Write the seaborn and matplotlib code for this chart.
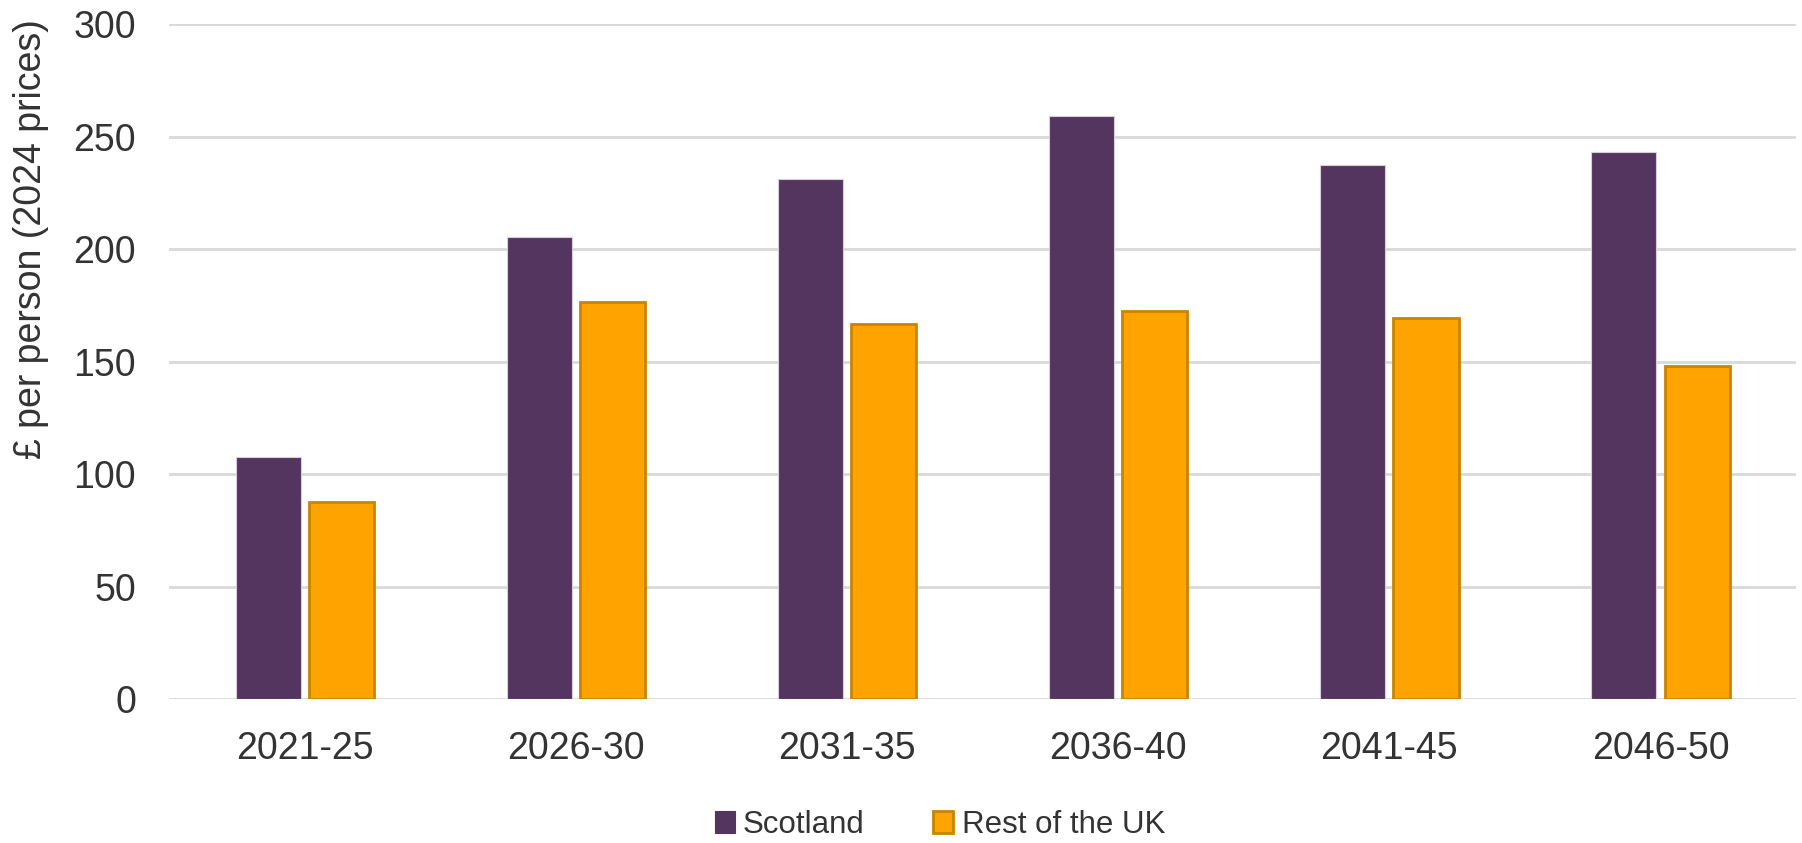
import numpy as np
import pandas as pd
import matplotlib
matplotlib.use("Agg")
import matplotlib.pyplot as plt
from matplotlib.patches import Patch
import seaborn as sns

periods = ["2021-25", "2026-30", "2031-35", "2036-40", "2041-45", "2046-50"]
scotland = [107.5, 205.5, 231, 259, 237.5, 243]
rest_uk = [87.5, 176.5, 166.8, 172.5, 169.3, 147.8]
series = ["Scotland", "Rest of the UK"]

fill_colors = ["#543560", "#FFA300"]
edge_colors = ["#D8CCDD", "#C98400"]

df = pd.DataFrame({
    "period": periods * 2,
    "value": scotland + rest_uk,
    "series": [series[0]] * len(periods) + [series[1]] * len(periods),
})

sns.set_style("white")
plt.rcParams["font.family"] = ["Liberation Sans", "DejaVu Sans"]

fig = plt.figure(figsize=(18.02, 8.43), dpi=100)
ax = fig.add_axes([0.094, 0.1708, 0.9027, 0.8007])

sns.barplot(data=df, x="period", y="value", hue="series", order=periods,
            hue_order=series, palette=fill_colors, width=0.54, gap=0.11,
            ax=ax, legend=False, saturation=1)

# bar outlines: faint for Scotland, darker orange for the rest of the UK
for cont, ec, lw in zip(ax.containers, edge_colors, [0.8, 2.0]):
    for bar in cont:
        bar.set_edgecolor(ec)
        bar.set_linewidth(lw)

ax.set_ylim(0, 300)
ax.set_xlim(-0.5, 5.5)
ax.set_yticks(np.arange(0, 301, 50))
ax.yaxis.grid(True, color="#D9D9D9", linewidth=2)
ax.set_axisbelow(True)
for s in ax.spines.values():
    s.set_visible(False)

ax.tick_params(axis="x", length=0, pad=23, labelsize=27, labelcolor="#333333")
ax.tick_params(axis="y", length=0, pad=24, labelsize=27, labelcolor="#333333")
ax.set_xlabel("")
ax.set_ylabel("£ per person (2024 prices)", fontsize=27, color="#333333")
ax.yaxis.set_label_coords(-0.074, 0.681)

handles = [Patch(facecolor=fc, edgecolor=ec, linewidth=lw)
           for fc, ec, lw in zip(fill_colors, ["#543560", "#C98400"], [0.8, 2.0])]
fig.legend(handles, series, loc="center", bbox_to_anchor=(0.5216, 0.021), ncol=2,
           frameon=False, fontsize=22.5, handlelength=0.64, handleheight=0.7,
           handletextpad=0.26, columnspacing=2.2, labelcolor="#333333")

fig.savefig("out.png", dpi=100)
